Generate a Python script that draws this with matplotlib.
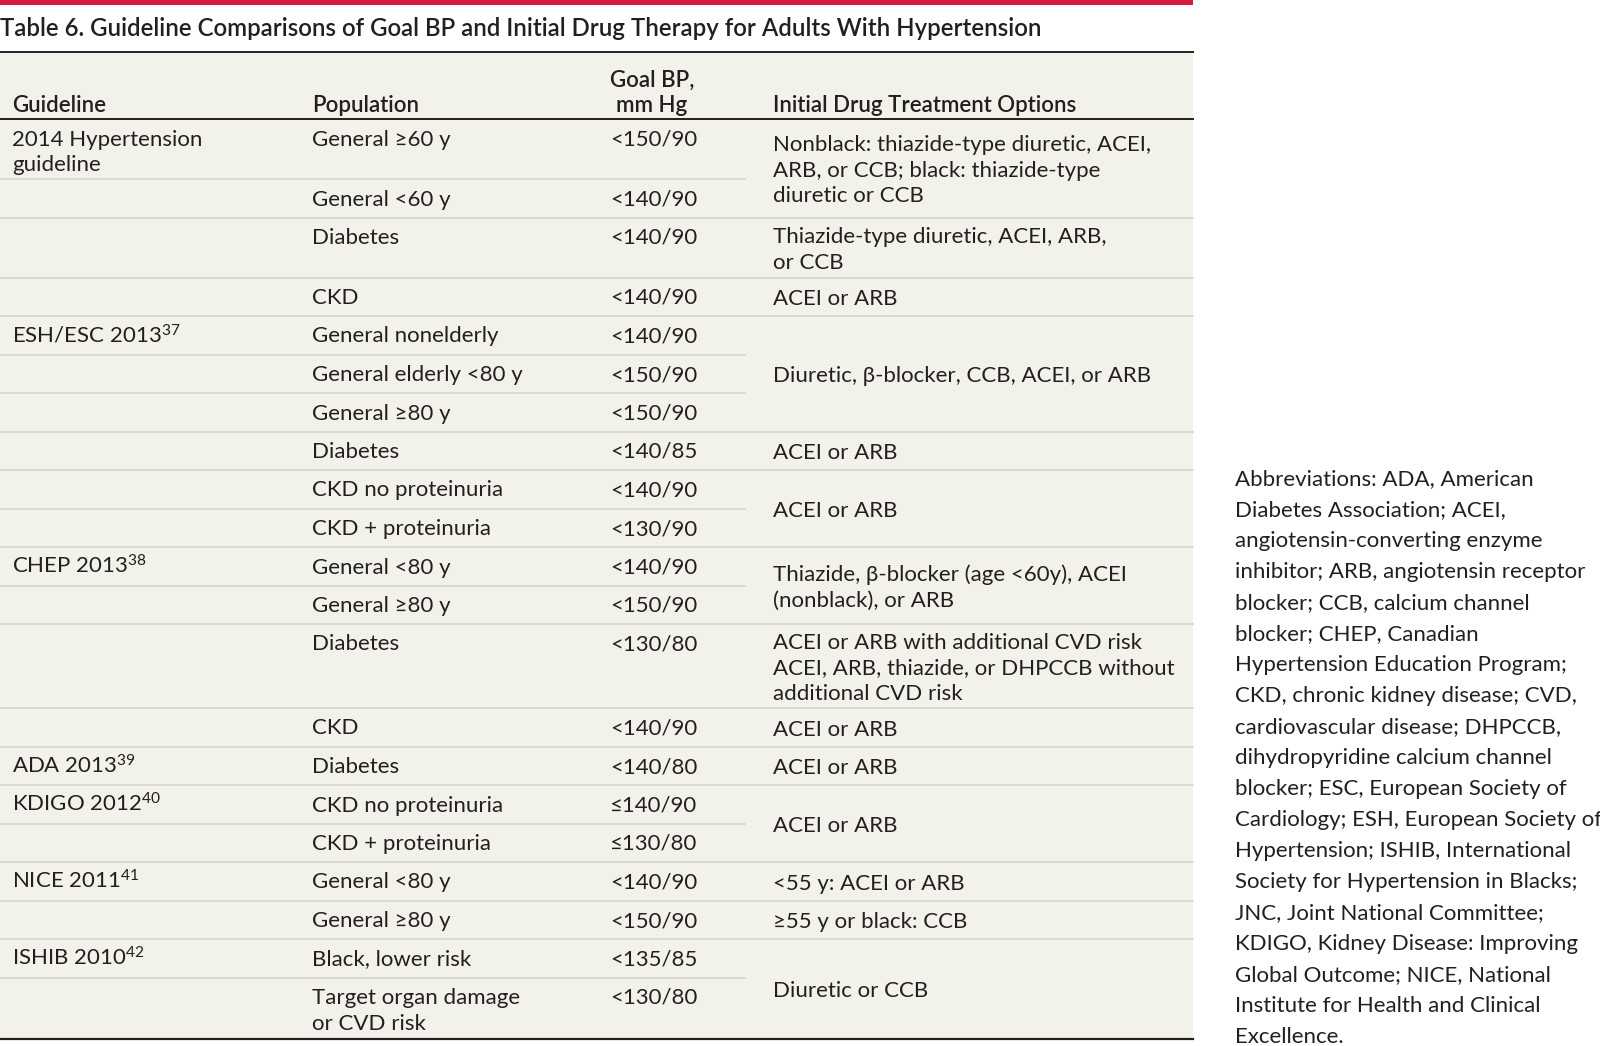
import matplotlib.pyplot as plt
from matplotlib.patches import Rectangle

plt.rcParams['font.family'] = ['Lato', 'DejaVu Sans']
plt.rcParams['mathtext.fontset'] = 'custom'
plt.rcParams['mathtext.rm'] = 'Lato'
plt.rcParams['mathtext.it'] = 'Lato:italic'
plt.rcParams['mathtext.bf'] = 'Lato:bold'

# Table content
title = "Table 6. Guideline Comparisons of Goal BP and Initial Drug Therapy for Adults With Hypertension"
headers = ["Guideline", "Population", "Goal BP,\nmm Hg", "Initial Drug Treatment Options"]

guidelines = ["2014 Hypertension\nguideline", "", "", "", "ESH/ESC 2013", "", "", "", "", "",
              "CHEP 2013", "", "", "", "ADA 2013", "KDIGO 2012", "", "NICE 2011", "", "ISHIB 2010", ""]
refs = ["", "", "", "", "37", "", "", "", "", "", "38", "", "", "", "39", "40", "", "41", "", "42", ""]
populations = ["General ≥60 y", "General <60 y", "Diabetes", "CKD",
               "General nonelderly", "General elderly <80 y", "General ≥80 y", "Diabetes",
               "CKD no proteinuria", "CKD + proteinuria",
               "General <80 y", "General ≥80 y", "Diabetes", "CKD",
               "Diabetes", "CKD no proteinuria", "CKD + proteinuria",
               "General <80 y", "General ≥80 y", "Black, lower risk", "Target organ damage\nor CVD risk"]
goal_bp = ["<150/90", "<140/90", "<140/90", "<140/90",
           "<140/90", "<150/90", "<150/90", "<140/85", "<140/90", "<130/90",
           "<140/90", "<150/90", "<130/80", "<140/90",
           "<140/80", "≤140/90", "≤130/80",
           "<140/90", "<150/90", "<135/85", "<130/80"]

# drug option cells: first row, number of rows spanned, text
drug_first_row = [0, 2, 3, 4, 7, 8, 10, 12, 13, 14, 15, 17, 18, 19]
drug_row_span = [2, 1, 1, 3, 1, 2, 2, 1, 1, 1, 2, 1, 1, 2]
drug_options = ["Nonblack: thiazide-type diuretic, ACEI,\nARB, or CCB; black: thiazide-type\ndiuretic or CCB",
                "Thiazide-type diuretic, ACEI, ARB,\nor CCB",
                "ACEI or ARB",
                "Diuretic, β-blocker, CCB, ACEI, or ARB",
                "ACEI or ARB",
                "ACEI or ARB",
                "Thiazide, β-blocker (age <60y), ACEI\n(nonblack), or ARB",
                "ACEI or ARB with additional CVD risk\nACEI, ARB, thiazide, or DHPCCB without\nadditional CVD risk",
                "ACEI or ARB",
                "ACEI or ARB",
                "ACEI or ARB",
                "<55 y: ACEI or ARB",
                "≥55 y or black: CCB",
                "Diuretic or CCB"]

abbreviations = ["Abbreviations: ADA, American",
                 "Diabetes Association; ACEI,",
                 "angiotensin-converting enzyme",
                 "inhibitor; ARB, angiotensin receptor",
                 "blocker; CCB, calcium channel",
                 "blocker; CHEP, Canadian",
                 "Hypertension Education Program;",
                 "CKD, chronic kidney disease; CVD,",
                 "cardiovascular disease; DHPCCB,",
                 "dihydropyridine calcium channel",
                 "blocker; ESC, European Society of",
                 "Cardiology; ESH, European Society of",
                 "Hypertension; ISHIB, International",
                 "Society for Hypertension in Blacks;",
                 "JNC, Joint National Committee;",
                 "KDIGO, Kidney Disease: Improving",
                 "Global Outcome; NICE, National",
                 "Institute for Health and Clinical",
                 "Excellence."]

# styling
ink = '#231f20'
bg = '#f3f2ea'
rule_light = '#d3d2c8'
red = '#d51a3b'
body_size = 16.0
line_gap = 25.5
table_right = 1193
partial_right = 745
col_x = [12, 312, 610, 773]

fig = plt.figure(figsize=(16, 10.46), dpi=100)
ax = fig.add_axes([0, 0, 1, 1])
ax.set_xlim(0, 1600)
ax.set_ylim(1046, 0)
ax.axis('off')


def cell_text(x, y, text, size=body_size, weight='normal', gap=line_gap, ha='left'):
    for k, line in enumerate(text.split('\n')):
        ax.text(x, y + k * gap, line, fontsize=size, fontweight=weight, color=ink,
                va='baseline', ha=ha)


# top red bar and title
ax.add_patch(Rectangle((0, 0), table_right, 5, color=red, lw=0))
ax.text(0, 36, title, fontsize=17.25, fontweight='semibold', color=ink, va='baseline')

# table background
ax.add_patch(Rectangle((0, 52), table_right, 988, color=bg, lw=0))
ax.plot([0, table_right], [52, 52], color=ink, lw=1.4)
ax.plot([0, table_right], [119, 119], color=ink, lw=1.4)

# header
cell_text(col_x[0], 112, headers[0], weight='semibold')
cell_text(col_x[1], 112, headers[1], weight='semibold')
cell_text(652, 86.5, headers[2], weight='semibold', gap=25.5, ha='center')
cell_text(col_x[3], 112, headers[3], weight='semibold')

# row heights from number of text lines in each row
n_rows = len(populations)
row_lines = []
for i in range(n_rows):
    n = max(guidelines[i].count('\n'), populations[i].count('\n'), goal_bp[i].count('\n')) + 1
    for first, span, txt in zip(drug_first_row, drug_row_span, drug_options):
        if first == i and span == 1:
            n = max(n, txt.count('\n') + 1)
    row_lines.append(n)
row_h = [38.5 if n == 1 else 12 + 24 * n for n in row_lines]
row_top = [119]
for h in row_h:
    row_top.append(row_top[-1] + h)

# rows that are joined to the next one by a spanning drug cell
joined = set()
for first, span in zip(drug_first_row, drug_row_span):
    for r in range(first, first + span - 1):
        joined.add(r)

for i in range(n_rows):
    top = row_top[i]
    base = top + 26.5
    label = guidelines[i]
    if refs[i]:
        label = label + r"$^{\mathrm{" + refs[i] + "}}$"
    cell_text(col_x[0], base, label)
    cell_text(col_x[1], base, populations[i])
    cell_text(col_x[2], base, goal_bp[i])
    if i < n_rows - 1:
        right = partial_right if i in joined else table_right
        ax.plot([0, right], [row_top[i + 1], row_top[i + 1]], color=rule_light, lw=1.1)

for first, span, txt in zip(drug_first_row, drug_row_span, drug_options):
    centre = (row_top[first] + row_top[first + span]) / 2
    n = txt.count('\n') + 1
    cell_text(col_x[3], centre + 8.5 - (n - 1) * line_gap / 2, txt)

ax.plot([0, table_right], [row_top[-1] + 1, row_top[-1] + 1], color=ink, lw=1.6)

# abbreviations note
for k, line in enumerate(abbreviations):
    ax.text(1235, 485 + k * 31, line, fontsize=16.0, color=ink, va='baseline', clip_on=True)

fig.savefig('out.png', dpi=100)
